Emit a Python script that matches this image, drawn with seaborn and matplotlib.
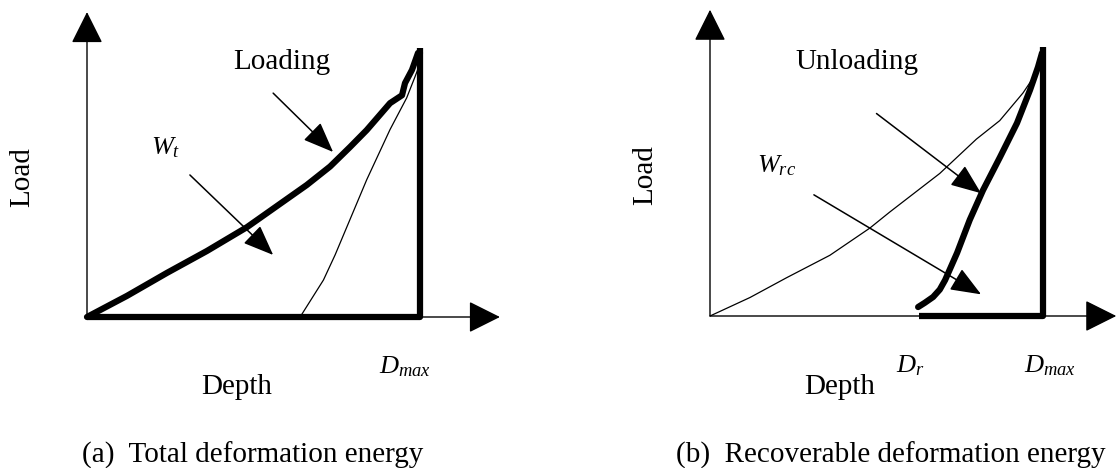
import numpy as np
import pandas as pd
import matplotlib
matplotlib.use("Agg")
import matplotlib.pyplot as plt
import seaborn as sns

sns.set_theme(style="white")
plt.rcParams['font.family'] = ['Liberation Serif', 'DejaVu Serif']
plt.rcParams['text.color'] = 'black'
plt.rcParams['mathtext.fontset'] = 'custom'
plt.rcParams['mathtext.rm'] = 'Liberation Serif'
plt.rcParams['mathtext.it'] = 'Liberation Serif:italic'

# ---- data (normalised depth / load) ----
# panel (a)
a_load_depth = [0.0, 0.06, 0.12, 0.24, 0.36, 0.48, 0.57, 0.66, 0.73, 0.79, 0.84, 0.91, 0.946, 0.955, 0.976, 0.994, 1.0]
a_load_force = [0.0, 0.04, 0.08, 0.167, 0.25, 0.34, 0.42, 0.50, 0.57, 0.644, 0.708, 0.81, 0.84, 0.886, 0.936, 1.0, 1.0]
a_unload_depth = [0.64, 0.67, 0.71, 0.745, 0.78, 0.84, 0.91, 0.96, 0.985, 1.0]
a_unload_force = [0.0, 0.06, 0.14, 0.235, 0.34, 0.52, 0.71, 0.83, 0.91, 0.96]
# panel (b)
b_load_depth = [0.0, 0.12, 0.23, 0.36, 0.48, 0.54, 0.69, 0.80, 0.87, 0.94, 0.98, 0.995]
b_load_force = [0.0, 0.07, 0.145, 0.23, 0.333, 0.394, 0.54, 0.67, 0.74, 0.845, 0.92, 0.95]
b_unload_depth = [0.625, 0.645, 0.67, 0.69, 0.706, 0.742, 0.78, 0.82, 0.871, 0.922, 0.961, 0.985, 0.997]
b_unload_force = [0.034, 0.05, 0.072, 0.10, 0.136, 0.239, 0.364, 0.477, 0.602, 0.731, 0.856, 0.943, 0.996]
D_r = 0.628
D_max = 1.0
P_top = 1.02

caption_a = "(a)  Total deformation energy"
caption_b = "(b)  Recoverable deformation energy"

W, H = 1119, 468
fig = plt.figure(figsize=(W / 100, H / 100), dpi=100)


def make_ax(x0, y0, sx, sy, xlim, ylim):
    left = x0 + xlim[0] * sx
    right = x0 + xlim[1] * sx
    top = y0 - ylim[1] * sy
    bottom = y0 - ylim[0] * sy
    ax = fig.add_axes([left / W, 1 - bottom / H, (right - left) / W, (bottom - top) / H])
    ax.set_xlim(*xlim)
    ax.set_ylim(*ylim)
    ax.axis("off")
    return ax


def line(ax, xs, ys, lw, cap="butt"):
    df = pd.DataFrame({"x": xs, "y": ys})
    sns.lineplot(data=df, x="x", y="y", ax=ax, sort=False, estimator=None,
                 errorbar=None, color="black", linewidth=lw,
                 solid_capstyle=cap, solid_joinstyle="round")


def axes_arrows(ax, xtip, ytip):
    for tip in [(xtip, 0), (0, ytip)]:
        ax.annotate("", xy=tip, xytext=(0, 0),
                    arrowprops=dict(arrowstyle="-|>,head_length=1.0,head_width=0.5",
                                    mutation_scale=20, lw=1.0, color="black",
                                    shrinkA=0, shrinkB=0))


def pointer(ax, start, end):
    ax.annotate("", xy=end, xytext=start,
                arrowprops=dict(arrowstyle="-|>,head_length=1.0,head_width=0.4",
                                mutation_scale=19, lw=1.1, color="black",
                                shrinkA=0, shrinkB=0))


fs = 21
# ---------- panel (a) ----------
axa = make_ax(87, 317, 333, 264, (-0.25, 1.3), (-0.35, 1.2))
axes_arrows(axa, 1.24, 1.155)
line(axa, a_unload_depth, a_unload_force, 0.9)
line(axa, a_load_depth, a_load_force, 4.5, cap="round")
line(axa, [0, D_max, D_max], [0, 0, P_top], 4.5)
pointer(axa, (0.559, 0.848), (0.739, 0.625))
pointer(axa, (0.309, 0.538), (0.559, 0.235))
axa.text(0.586, 0.966, "Loading", fontsize=fs, ha="center", va="center")
axa.text(0.235, 0.64, "$W_t$", fontsize=19, ha="center", va="center")
axa.text(-0.195, 0.53, "Load", fontsize=fs, ha="center", va="center", rotation=90)
axa.text(0.45, -0.265, "Depth", fontsize=fs, ha="center", va="center")
axa.text(0.955, -0.19, "$D_{max}$", fontsize=19, ha="center", va="center")

# ---------- panel (b) ----------
axb = make_ax(710, 316, 333, 264, (-0.25, 1.225), (-0.35, 1.2))
axes_arrows(axb, 1.22, 1.16)
line(axb, b_load_depth, b_load_force, 0.9)
line(axb, b_unload_depth, b_unload_force, 4.5, cap="round")
line(axb, [D_r, D_max, D_max], [0, 0, P_top], 4.5)
pointer(axb, (0.50, 0.767), (0.814, 0.465))
pointer(axb, (0.312, 0.459), (0.814, 0.082))
axb.text(0.44, 0.962, "Unloading", fontsize=fs, ha="center", va="center")
axb.text(0.20, 0.57, "$W_{rc}$", fontsize=19, ha="center", va="center")
axb.text(-0.194, 0.535, "Load", fontsize=fs, ha="center", va="center", rotation=90)
axb.text(0.39, -0.27, "Depth", fontsize=fs, ha="center", va="center")
axb.text(0.60, -0.19, "$D_r$", fontsize=19, ha="center", va="center")
axb.text(1.02, -0.19, "$D_{max}$", fontsize=19, ha="center", va="center")

fig.text(253 / W, 1 - 455 / H, caption_a, fontsize=fs, ha="center", va="center")
fig.text(891 / W, 1 - 455 / H, caption_b, fontsize=fs, ha="center", va="center")

fig.savefig("out.png", dpi=100)
